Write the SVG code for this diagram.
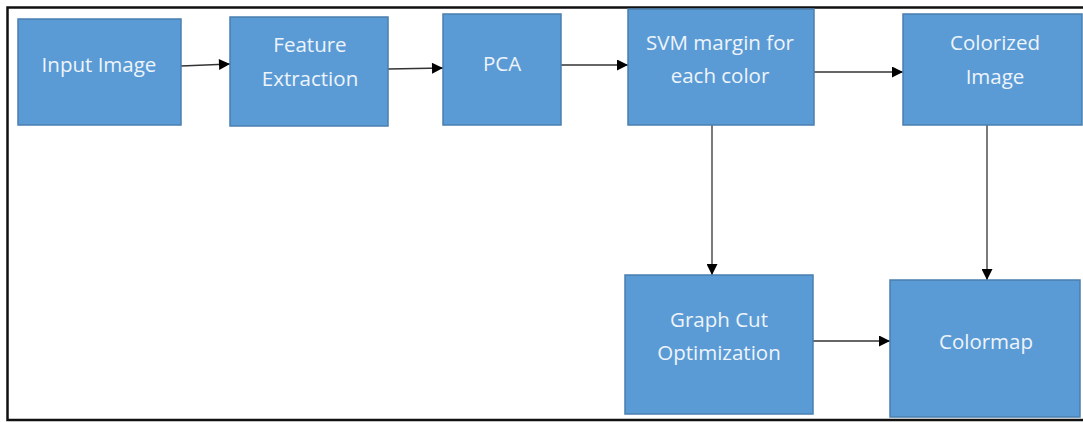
<svg xmlns="http://www.w3.org/2000/svg" width="1083" height="422" viewBox="0 0 1083 422">
<style>
.box{fill:#5b9bd5;stroke:#4a7fb0;stroke-width:1.5}
.lbl{font-family:"Open Sans","Liberation Sans",sans-serif;font-size:20.5px;fill:#eef4fb;text-anchor:middle}
.conn{stroke:#333;stroke-width:1.3;fill:none;marker-end:url(#ah)}
</style>
<defs>
<marker id="ah" viewBox="0 0 10 10" refX="10" refY="5" markerWidth="13" markerHeight="11" markerUnits="userSpaceOnUse" orient="auto">
<path d="M0,0 L10,5 L0,10 z" fill="#000"/>
</marker>
</defs>
<rect width="1083" height="422" fill="#fff"/>
<rect x="7.5" y="7.5" width="1085" height="412.5" fill="none" stroke="#111" stroke-width="2.5"/>
<g id="connectors">
<line class="conn" x1="181" y1="66" x2="230" y2="64"/>
<line class="conn" x1="388" y1="69" x2="443" y2="68"/>
<line class="conn" x1="561" y1="65" x2="628" y2="65"/>
<line class="conn" x1="814" y1="72" x2="903" y2="72"/>
<line class="conn" x1="712" y1="125" x2="712" y2="275"/>
<line class="conn" x1="987" y1="125" x2="987" y2="280"/>
<line class="conn" x1="813" y1="341" x2="890" y2="341"/>
</g>
<g id="input-image">
<rect class="box" x="18" y="19" width="163" height="106"/>
<text class="lbl" x="99" y="72">Input Image</text>
</g>
<g id="feature-extraction">
<rect class="box" x="230" y="17" width="158" height="109"/>
<text class="lbl" x="310" y="52">Feature</text>
<text class="lbl" x="310" y="86">Extraction</text>
</g>
<g id="pca">
<rect class="box" x="443" y="14" width="118" height="111"/>
<text class="lbl" x="502" y="71">PCA</text>
</g>
<g id="svm">
<rect class="box" x="628" y="9" width="186" height="116"/>
<text class="lbl" x="720" y="50">SVM margin for</text>
<text class="lbl" x="720" y="83">each color</text>
</g>
<g id="colorized-image">
<rect class="box" x="903" y="14" width="179" height="111"/>
<text class="lbl" x="995" y="50">Colorized</text>
<text class="lbl" x="995" y="84">Image</text>
</g>
<g id="graph-cut">
<rect class="box" x="625" y="275" width="188" height="139"/>
<text class="lbl" x="719" y="327">Graph Cut</text>
<text class="lbl" x="719" y="360">Optimization</text>
</g>
<g id="colormap">
<rect class="box" x="890" y="280" width="190" height="137"/>
<text class="lbl" x="986" y="349">Colormap</text>
</g>
</svg>
